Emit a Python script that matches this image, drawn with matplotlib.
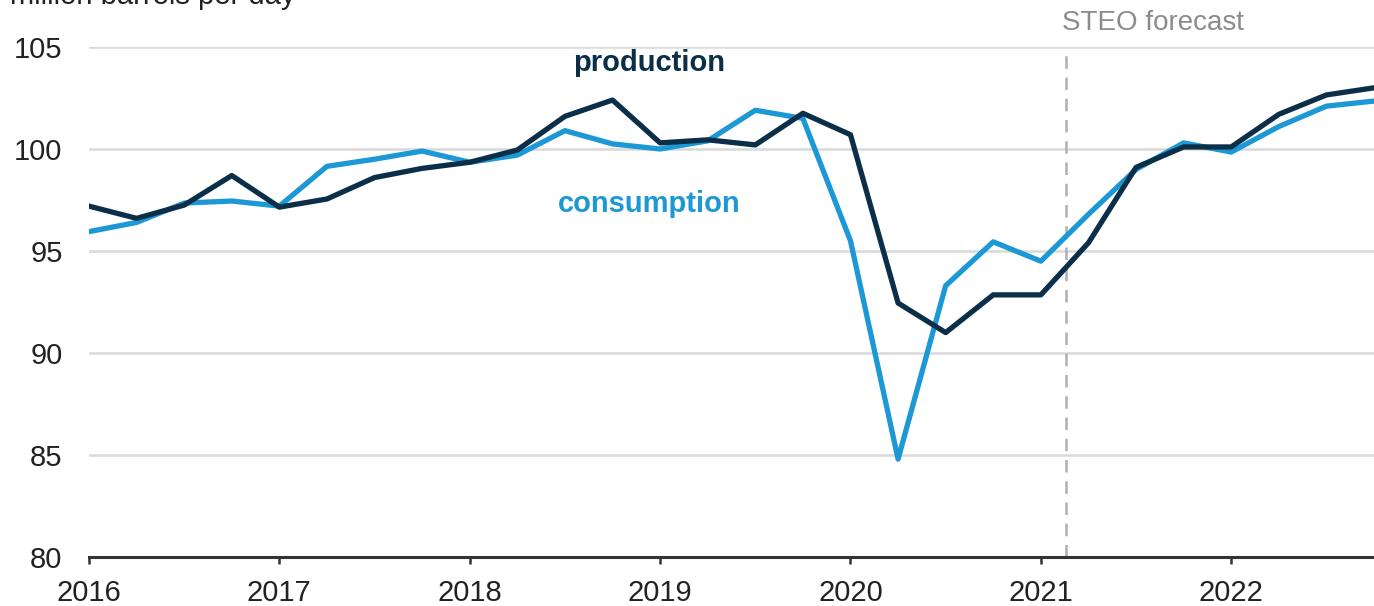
#!/usr/bin/env python

import numpy as np
import matplotlib.pyplot as plt

plt.rcParams['font.family'] = ['Liberation Sans', 'DejaVu Sans']

#Quarterly values, 2016Q1 to 2022Q4 (million barrels per day)
quarters = 2016 + np.arange(28) * 0.25

production = [97.2, 96.6, 97.25, 98.7, 97.15, 97.55, 98.6, 99.05,
              99.35, 99.95, 101.6, 102.4, 100.3, 100.45, 100.2, 101.75,
              100.7, 92.45, 91.0, 92.85, 92.85, 95.4, 99.1, 100.1,
              100.1, 101.7, 102.65, 103.0]

consumption = [95.95, 96.4, 97.35, 97.45, 97.2, 99.15, 99.5, 99.9,
               99.35, 99.7, 100.9, 100.25, 100.0, 100.4, 101.9, 101.5,
               95.5, 84.8, 93.3, 95.45, 94.5, 96.8, 99.0, 100.3,
               99.85, 101.1, 102.1, 102.35]

years = [2016, 2017, 2018, 2019, 2020, 2021, 2022]
yticks = [80, 85, 90, 95, 100, 105]
forecast_start = 2021.13

dark = '#0b2f48'
light = '#1b98d5'
text_col = '#222222'

fig = plt.figure(figsize=(13.74, 6.06), dpi=100)
ax = fig.add_axes([89/1374, 49/606, 1 - 89/1374, (557 - 47)/606])

ax.set_xlim(2016, 2022.75)
ax.set_ylim(80, 105)

#Gridlines
for v in yticks[1:]:
    ax.axhline(v, color='#d9d9d9', lw=1.8, zorder=0)

ax.plot(quarters, consumption, color=light, lw=3.8, zorder=3)
ax.plot(quarters, production, color=dark, lw=3.8, zorder=4)

#Forecast marker
ax.axvline(forecast_start, color='#b0b0b0', lw=1.8, ls=(0, (5, 3.5)), zorder=1)
ax.text(forecast_start - 0.02, 106.2, 'STEO forecast', color='#8c8c8c',
        fontsize=20, ha='left', va='center', clip_on=False)

ax.text(2018.94, 104.2, 'production', color=dark, fontsize=21,
        fontweight='bold', ha='center', va='center')
ax.text(2018.94, 97.3, 'consumption', color=light, fontsize=21,
        fontweight='bold', ha='center', va='center')

for s in ['top', 'right', 'left']:
    ax.spines[s].set_visible(False)
ax.spines['bottom'].set_color('#333333')
ax.spines['bottom'].set_linewidth(2.2)

ax.set_xticks(years)
ax.set_xticklabels([str(y) for y in years])
ax.set_yticks(yticks)
ax.tick_params(axis='x', length=5, width=1.8, color='#333333',
               labelsize=21, labelcolor=text_col, pad=11)
ax.tick_params(axis='y', length=0, labelsize=21, labelcolor=text_col, pad=19)

fig.text(10/1374, 1 - 4/606, 'million barrels per day', fontsize=21,
         color=text_col, ha='left', va='baseline')

fig.savefig('out.png', dpi=100)
